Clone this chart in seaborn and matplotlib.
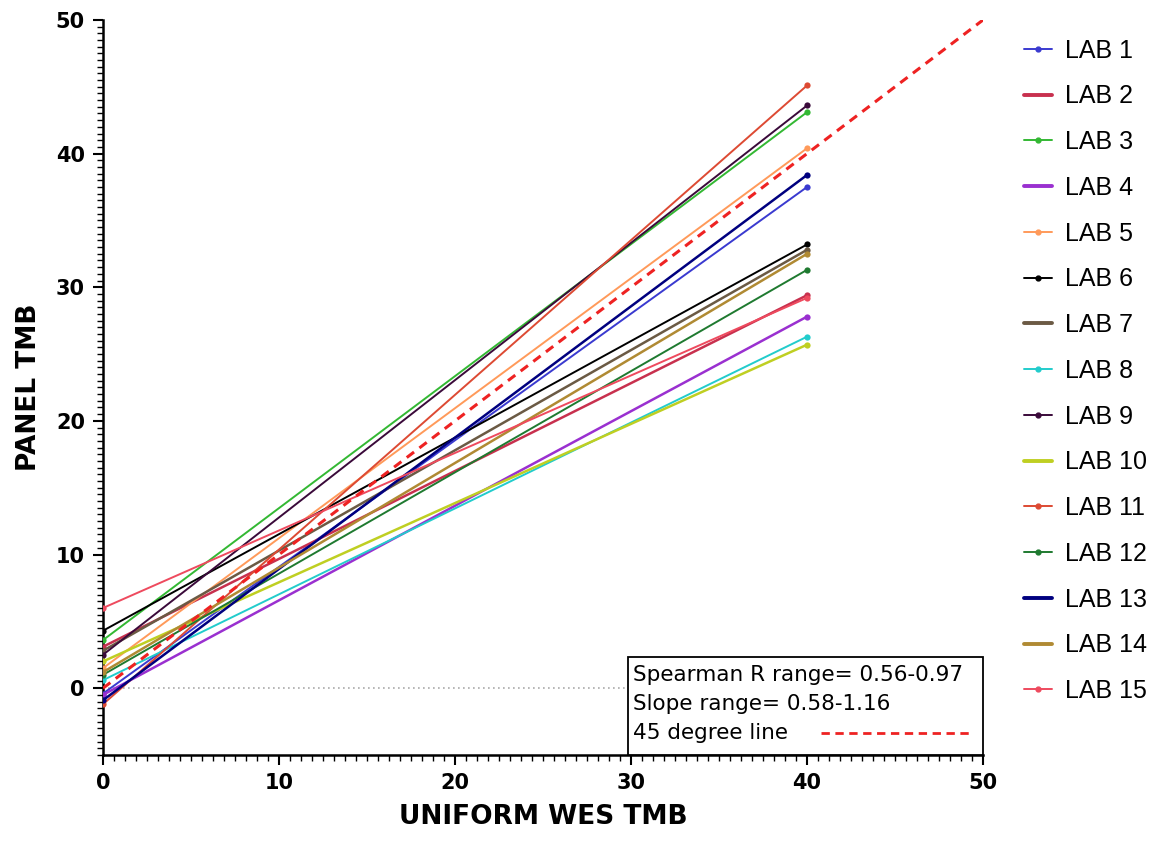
import numpy as np
import pandas as pd
import matplotlib
matplotlib.use("Agg")
import matplotlib.pyplot as plt
import seaborn as sns
from matplotlib.lines import Line2D
from matplotlib.patches import Rectangle
from matplotlib.ticker import MultipleLocator

# Fitted lines per lab: panel TMB at WES TMB = 0 and at WES TMB = 40
labs = [f"LAB {i}" for i in range(1, 16)]
y_at_0 = [-0.4, 3.1, 3.6, -0.5, 1.5, 4.3, 2.8, 0.6, 2.5, 2.0, -1.2, 1.0, -0.9, 1.2, 6.0]
y_at_40 = [37.5, 29.4, 43.1, 27.8, 40.4, 33.2, 32.8, 26.3, 43.6, 25.7, 45.1, 31.3, 38.4, 32.5, 29.2]
x_ends = [0, 40]

colors = ["#3a3ad0", "#c8304e", "#33b833", "#9a30d0", "#ff9a5a", "#000000", "#6b5a44",
          "#22cccc", "#3a0a3a", "#bfcf22", "#dd4a33", "#1f7a30", "#00007f", "#b08a33", "#ee4a5e"]
thick = {"LAB 2", "LAB 4", "LAB 7", "LAB 10", "LAB 13", "LAB 14"}

rows = []
for lab, a, b in zip(labs, y_at_0, y_at_40):
    rows.append({"lab": lab, "wes": x_ends[0], "panel": a})
    rows.append({"lab": lab, "wes": x_ends[1], "panel": b})
df = pd.DataFrame(rows)

sns.set_theme(style="ticks")
plt.rcParams["font.family"] = ["Liberation Sans", "DejaVu Sans"]
for key in ["text.color", "axes.labelcolor", "xtick.color", "ytick.color", "axes.edgecolor"]:
    plt.rcParams[key] = "black"

fig = plt.figure(figsize=(11.75, 8.43), dpi=100)
ax = fig.add_axes([0.0877, 0.1044, 0.749, 0.872])

ax.axhline(0, color="#aaaaaa", lw=1.2, ls=(0, (1, 2)), zorder=1)

handles = []
for lab, col in zip(labs, colors):
    lw = 1.8 if lab in thick else 1.4
    sns.lineplot(data=df[df["lab"] == lab], x="wes", y="panel", color=col, lw=lw,
                 marker="o", markersize=4.5, markeredgewidth=0, ax=ax, zorder=3)
    handles.append(Line2D([0], [0], color=col, lw=lw + 1.0 if lab in thick else lw,
                          marker=None if lab in thick else "o", markersize=3.5))

# 45 degree line
ax.plot([0, 50], [0, 50], color="#ee2222", lw=2.2, ls=(0, (3, 2.2)), zorder=4)

ax.set_xlim(0, 50)
ax.set_ylim(-5, 50)
ax.xaxis.set_major_locator(MultipleLocator(10))
ax.yaxis.set_major_locator(MultipleLocator(10))
ax.xaxis.set_minor_locator(MultipleLocator(0.625))
ax.yaxis.set_minor_locator(MultipleLocator(0.5))
ax.tick_params(axis="both", which="major", length=7, width=1.5, labelsize=15, pad=6)
ax.tick_params(axis="both", which="minor", length=4, width=1.0)
for lbl in ax.get_xticklabels() + ax.get_yticklabels():
    lbl.set_fontweight("bold")
    lbl.set_family("DejaVu Sans")
for s in ["top", "right"]:
    ax.spines[s].set_visible(False)
for s in ["left", "bottom"]:
    ax.spines[s].set_linewidth(1.8)
ax.set_xlabel("UNIFORM WES TMB", fontsize=19, fontweight="bold", family="DejaVu Sans", labelpad=8)
ax.set_ylabel("PANEL TMB", fontsize=19, fontweight="bold", family="DejaVu Sans", labelpad=10)

# annotation box
ax.add_patch(Rectangle((29.8, -5), 20.2, 7.3, facecolor="white", edgecolor="black",
                       lw=1.3, zorder=5, clip_on=False))
box_font = dict(fontsize=15.5, family="DejaVu Sans", va="center", zorder=6)
ax.text(30.1, 0.95, "Spearman R range= 0.56-0.97", **box_font)
ax.text(30.1, -1.15, "Slope range= 0.58-1.16", **box_font)
ax.text(30.1, -3.35, "45 degree line", **box_font)
ax.plot([40.8, 49.4], [-3.35, -3.35], color="#ee2222", lw=2, ls=(0, (3, 2)), zorder=6)

leg = fig.legend(handles, labs, loc="upper left", bbox_to_anchor=(0.852, 0.981),
                 frameon=False, fontsize=18, handlelength=1.15, handletextpad=0.5,
                 labelspacing=0.87)

fig.savefig("out.png", dpi=100)
